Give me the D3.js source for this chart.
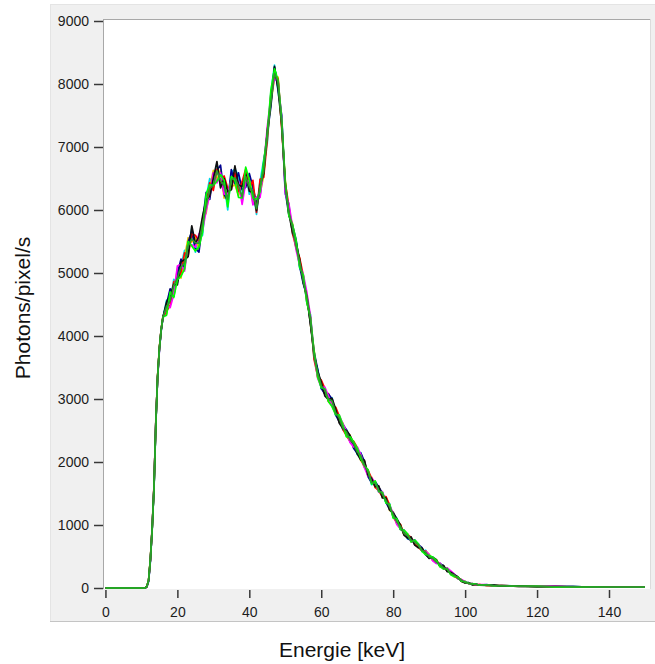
<!DOCTYPE html>
<html><head><meta charset="utf-8">
<script src="https://cdn.jsdelivr.net/npm/d3@7"></script>
<style>body{margin:0;background:#fff}svg{display:block}</style>
</head><body>
<script>
// Energy grid (keV)
const energies = [0, 11, 11.5, 12, 12.5, 13, 13.5, 14, 14.5, 15, 15.5, 16,
  17, 18, 19, 20, 21, 22, 23, 24, 25, 26,
  27, 28, 29, 30, 31, 32, 33, 34, 35, 36,
  37, 38, 39, 40, 41, 42, 43, 44, 45, 46,
  47, 48, 49, 50, 51, 52, 53, 54, 55, 56,
  57, 58, 59, 60, 61, 62, 63, 64, 65, 66,
  67, 68, 69, 70, 71, 72, 73, 74, 75, 76,
  77, 78, 79, 80, 81, 82, 83, 84, 85, 86,
  87, 88, 89, 90, 91, 92, 93, 94, 95, 96,
  97, 98, 99, 100, 101, 102, 103, 104,
  106, 108, 110, 115, 120, 125, 130, 135, 140, 145, 150];

const spectrumCyan = [0,0,15,100,420,930,1570,2560,3330,3780,4080,4290,
  4570,4520,4900,4850,5110,5360,5350,5710,5330,5540,
  5600,6200,6500,6360,6740,6380,6430,6000,6600,6650,
  6550,6150,6620,6250,6340,5930,6450,6800,7060,7870,
  8300,7880,7480,6250,6090,5620,5510,5080,4950,4520,
  4340,3640,3480,3160,3180,2970,3020,2740,2720,2510,
  2520,2320,2310,2120,2150,1930,1870,1640,1680,1520,
  1520,1350,1340,1120,1110,940,920,780,800,690,
  700,580,600,480,490,390,390,310,310,220,
  220,145,135,80,85,50,60,45,
  55,35,43,25,31,15,24,15,12,12,12];

const spectrumYellow = [0,0,25,130,470,980,1630,2640,3370,3820,4110,4320,
  4350,4740,4690,5060,4920,5250,5560,5490,5570,5380,
  5870,5950,6360,6630,6480,6640,6190,6310,6370,6400,
  6230,6410,6400,6530,6110,6140,6270,6540,7280,7690,
  8110,8110,7340,6470,5930,5790,5390,5230,4840,4670,
  4180,3780,3340,3290,3070,3090,2910,2860,2630,2620,
  2410,2430,2230,2230,2020,2020,1780,1760,1590,1610,
  1440,1440,1230,1210,1020,1010,850,860,740,750,
  640,640,530,530,440,450,350,350,270,260,
  180,180,105,105,65,70,50,55,
  40,48,29,36,20,25,16,15,12,12,12];

const spectrumNavy = [0,0,18,115,445,955,1590,2610,3340,3790,4090,4300,
  4510,4750,4630,4990,5220,5080,5490,5660,5390,5330,
  5810,6280,6170,6570,6630,6710,6250,6140,6640,6420,
  6590,6320,6360,6580,6360,6110,6230,6740,7210,7640,
  8260,7940,7500,6300,5920,5760,5530,5110,4830,4640,
  4200,3750,3470,3170,3080,3080,3000,2750,2640,2600,
  2510,2410,2220,2140,2140,2010,1770,1670,1690,1600,
  1510,1360,1250,1200,1090,930,910,790,750,760,
  690,640,530,480,480,400,390,350,270,260,
  215,170,110,100,70,70,60,45,
  50,45,30,36,21,25,23,15,12,12,12];

const spectrumRed = [0,0,22,125,455,945,1610,2590,3360,3810,4100,4310,
  4390,4490,4860,4880,5010,5320,5280,5620,5600,5510,
  5790,6040,6430,6310,6650,6440,6540,6350,6330,6590,
  6290,6450,6650,6340,6470,5960,6490,6520,7110,7840,
  8160,8080,7300,6430,6060,5630,5400,5240,4960,4540,
  4300,3630,3360,3300,3170,2960,2900,2870,2730,2520,
  2420,2330,2330,2230,2040,1920,1870,1740,1600,1540,
  1450,1450,1320,1130,1030,1010,850,850,800,690,
  650,590,590,530,440,440,350,310,310,220,
  185,150,135,80,80,55,50,55,
  40,35,41,25,30,16,17,15,12,12,12];

const spectrumMagenta = [0,0,12,110,440,960,1620,2620,3320,3770,4120,4280,
  4480,4450,4660,5110,5140,5030,5460,5450,5410,5620,
  5670,5990,6240,6590,6430,6590,6250,6260,6490,6490,
  6450,6090,6440,6460,6080,6210,6200,6690,7320,7800,
  8080,8040,7460,6260,6100,5740,5370,5120,4980,4690,
  4320,3740,3330,3190,3190,3050,2890,2760,2740,2610,
  2490,2310,2240,2240,2120,1910,1780,1750,1670,1520,
  1530,1370,1310,1190,1010,940,920,850,730,740,
  700,590,580,530,430,390,400,300,320,270,
  220,150,130,105,65,65,50,55,
  53,34,40,25,31,25,16,15,12,12,12];

const spectrumBlack = [0,0,20,120,450,950,1600,2600,3350,3800,4100,4300,
  4540,4640,4820,4810,5180,5210,5260,5750,5470,5580,
  5900,6160,6220,6500,6770,6350,6500,6290,6320,6700,
  6400,6370,6570,6300,6280,5990,6390,6580,7250,7710,
  8280,7910,7360,6410,5940,5650,5490,5210,4860,4620,
  4190,3710,3440,3270,3050,2990,3010,2840,2620,2530,
  2500,2420,2300,2130,2030,2030,1790,1740,1610,1620,
  1430,1430,1240,1190,1100,1000,840,790,810,680,
  640,630,540,470,490,450,340,360,260,250,
  210,175,105,80,85,50,60,45,
  40,45,30,35,20,24,23,15,12,12,12];

const spectrumLime = [0,0,20,125,460,940,1590,2590,3350,3800,4110,4300,
  4330,4700,4610,4890,4950,5060,5500,5430,5350,5410,
  5650,6250,6400,6390,6460,6560,6470,6050,6530,6470,
  6200,6190,6680,6480,6190,6170,6290,6770,7210,7900,
  8240,8060,7440,6450,5910,5770,5520,5090,4970,4530,
  4290,3760,3350,3180,3160,2960,2880,2750,2750,2590,
  2400,2400,2320,2220,2050,1940,1880,1650,1700,1530,
  1520,1350,1330,1110,1100,930,920,860,730,760,
  700,580,530,520,490,440,340,300,310,210,
  180,175,110,100,70,65,60,45,
  50,35,40,25,30,15,16,15,12,12,12];

const spectrumGreen = [0,0,20,120,450,950,1600,2600,3350,3800,4100,4300,
  4470,4560,4800,4920,5090,5160,5430,5540,5480,5470,
  5780,6060,6340,6400,6620,6470,6390,6170,6480,6510,
  6380,6210,6530,6370,6290,6020,6380,6620,7180,7710,
  8170,8030,7370,6380,5970,5730,5420,5180,4870,4630,
  4270,3680,3420,3210,3140,3000,2970,2780,2700,2540,
  2480,2350,2290,2160,2100,1950,1840,1680,1660,1550,
  1490,1390,1290,1170,1050,980,870,830,760,730,
  680,600,570,490,470,410,380,320,300,230,
  205,155,125,85,78,57,56,48,
  45,40,35,30,25,20,20,15,12,12,12];

const seriesNames = ["cyan","yellow","navy","red","magenta","black","lime","green"];
const seriesColors = ["#00d8e8","#e0c400","#000090","#ff0000","#ff00ff","#101010","#00ff00","#2c9a2c"];
const seriesValues = [spectrumCyan, spectrumYellow, spectrumNavy, spectrumRed, spectrumMagenta, spectrumBlack, spectrumLime, spectrumGreen];

const xTicks = [0, 20, 40, 60, 80, 100, 120, 140];
const yTicks = [0, 1000, 2000, 3000, 4000, 5000, 6000, 7000, 8000, 9000];
const xTitle = "Energie [keV]";
const yTitle = "Photons/pixel/s";

const W = 655, H = 664;
const svg = d3.select("body").append("svg").attr("width", W).attr("height", H);

const plotL = 104, plotR = 650, plotT = 20, plotB = 589;
const x = d3.scaleLinear().domain([-0.4, 151.4]).range([plotL, plotR]);
const y = d3.scaleLinear().domain([0, 9000]).range([588, 21]);

// grey panel
svg.append("rect").attr("x", 50).attr("y", 4).attr("width", W - 50).attr("height", 617)
  .attr("fill", "#f0f0f0");
svg.append("line").attr("x1", 50).attr("x2", W).attr("y1", 4.5).attr("y2", 4.5).attr("stroke", "#e4e4e4");
svg.append("line").attr("x1", 50.5).attr("x2", 50.5).attr("y1", 4).attr("y2", 621).attr("stroke", "#e4e4e4");
svg.append("line").attr("x1", 50).attr("x2", W).attr("y1", 621.5).attr("y2", 621.5).attr("stroke", "#c4c4c4");

// plot area
svg.append("rect").attr("x", plotL).attr("y", plotT).attr("width", plotR - plotL).attr("height", plotB - plotT)
  .attr("fill", "#ffffff");
svg.append("line").attr("x1", plotL - 0.5).attr("x2", plotR).attr("y1", plotT - 0.5).attr("y2", plotT - 0.5).attr("stroke", "#a8a8a8");
svg.append("line").attr("x1", plotL - 0.5).attr("x2", plotL - 0.5).attr("y1", plotT - 1).attr("y2", plotB).attr("stroke", "#a8a8a8");
svg.append("line").attr("x1", plotR + 0.5).attr("x2", plotR + 0.5).attr("y1", plotT - 1).attr("y2", plotB).attr("stroke", "#dcdcdc");

svg.append("defs").append("clipPath").attr("id", "clip")
  .append("rect").attr("x", plotL).attr("y", plotT).attr("width", plotR - plotL).attr("height", plotB - plotT);

const line = d3.line().x((d, i) => x(energies[i])).y(d => y(d));
const g = svg.append("g").attr("clip-path", "url(#clip)");
seriesValues.forEach((vals, k) => {
  g.append("path").datum(vals)
    .attr("fill", "none")
    .attr("stroke", seriesColors[k])
    .attr("stroke-width", 1.7)
    .attr("stroke-linejoin", "round")
    .attr("d", line);
});

const font = "'Liberation Sans', Arial, sans-serif";

// y axis
const yAxis = svg.append("g").attr("transform", `translate(${plotL - 1},0)`)
  .call(d3.axisLeft(y).tickValues(yTicks).tickFormat(d3.format("d")).tickSizeInner(9).tickSizeOuter(0).tickPadding(5));
yAxis.select(".domain").remove();
yAxis.selectAll(".tick line").attr("stroke", "#383838").attr("stroke-width", 1.5);
yAxis.selectAll(".tick text").attr("font-family", font).attr("font-size", 14).attr("fill", "#1c1c1c");

// x axis
const xAxis = svg.append("g").attr("transform", `translate(0,${plotB + 1})`)
  .call(d3.axisBottom(x).tickValues(xTicks).tickFormat(d3.format("d")).tickSizeInner(8).tickSizeOuter(0).tickPadding(9));
xAxis.select(".domain").remove();
xAxis.selectAll(".tick line").attr("stroke", "#383838").attr("stroke-width", 1.5);
xAxis.selectAll(".tick text").attr("font-family", font).attr("font-size", 14).attr("fill", "#1c1c1c");

// titles
svg.append("text").attr("x", 342).attr("y", 657).attr("text-anchor", "middle")
  .attr("font-family", font).attr("font-size", 21).attr("fill", "#111").text(xTitle);
svg.append("text").attr("transform", "translate(30,308) rotate(-90)").attr("text-anchor", "middle")
  .attr("font-family", font).attr("font-size", 21).attr("fill", "#111").text(yTitle);
</script>
</body></html>
